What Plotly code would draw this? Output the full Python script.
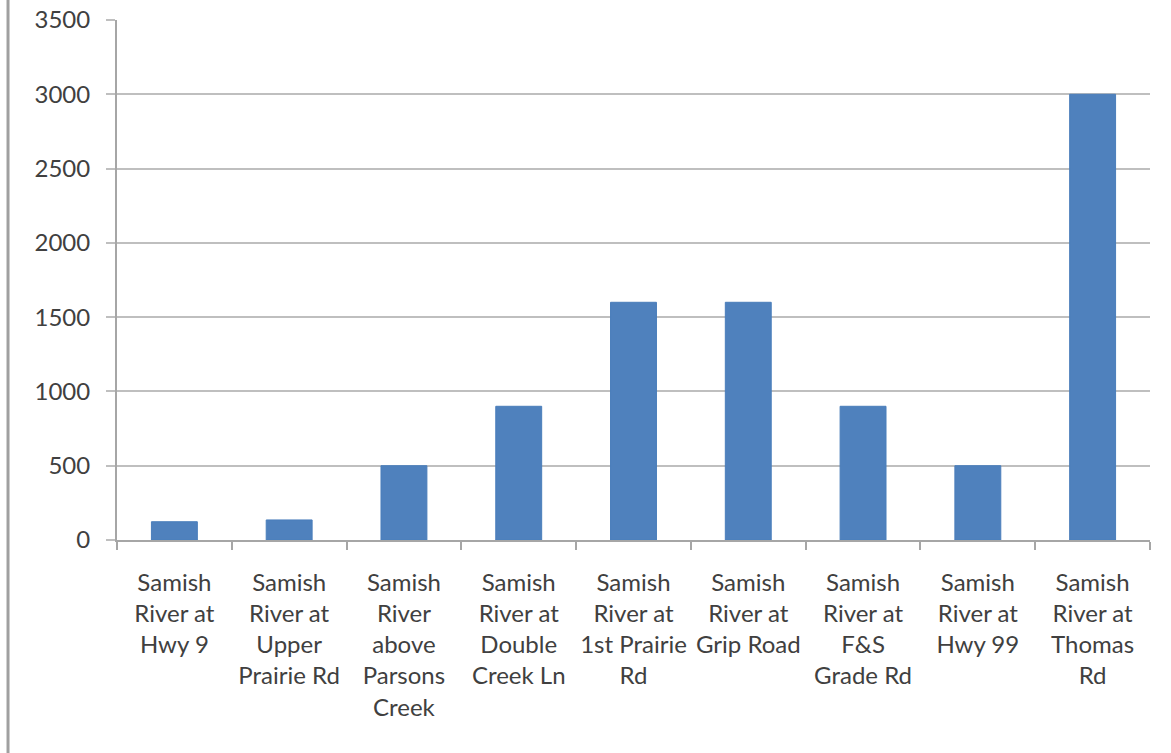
import plotly.graph_objects as go

categories = [
    "Samish<br>River at<br>Hwy 9",
    "Samish<br>River at<br>Upper<br>Prairie Rd",
    "Samish<br>River<br>above<br>Parsons<br>Creek",
    "Samish<br>River at<br>Double<br>Creek Ln",
    "Samish<br>River at<br>1st Prairie<br>Rd",
    "Samish<br>River at<br>Grip Road",
    "Samish<br>River at<br>F&S<br>Grade Rd",
    "Samish<br>River at<br>Hwy 99",
    "Samish<br>River at<br>Thomas<br>Rd",
]
values = [123, 135, 500, 900, 1600, 1600, 900, 500, 3000]
y_ticks = [0, 500, 1000, 1500, 2000, 2500, 3000, 3500]

font_family = "Lato, 'Open Sans', sans-serif"
text_color = "#404040"

fig = go.Figure(
    go.Bar(
        x=categories,
        y=values,
        marker=dict(color="#4F81BD", line=dict(color="#4A7EBB", width=1)),
        width=0.4,
    )
)

fig.update_layout(
    width=1171,
    height=753,
    margin=dict(l=117, r=21, t=20, b=213, autoexpand=False),
    plot_bgcolor="white",
    paper_bgcolor="white",
    showlegend=False,
    font=dict(family=font_family, size=24, color=text_color),
    shapes=[
        dict(type="line", xref="paper", yref="paper",
             x0=-0.1055, x1=-0.1055, y0=-0.6, y1=1.2,
             line=dict(color="#a0a0a0", width=3)),
    ],
)

fig.update_xaxes(
    automargin=False,
    showline=True, linecolor="#a6a6a6", linewidth=2,
    ticks="outside", tickson="boundaries", ticklen=8, tickcolor="#a6a6a6", tickwidth=2,
    showgrid=False,
    tickangle=0,
    ticklabelstandoff=20,
    tickfont=dict(family=font_family, size=24, color=text_color),
)

fig.update_yaxes(
    automargin=False,
    range=[0, 3500],
    tickvals=y_ticks,
    ticklabeloverflow="allow",
    showline=True, linecolor="#a6a6a6", linewidth=2,
    ticks="outside", ticklen=9, tickcolor="#bfbfbf", tickwidth=2,
    showgrid=True, gridcolor="#bfbfbf", gridwidth=2,
    zeroline=False,
    ticklabelstandoff=11,
    tickfont=dict(family=font_family, size=24, color=text_color),
)

fig.write_html(
    "out.html",
    config={"displayModeBar": False},
    post_script="document.body.style.margin='0';",
)
